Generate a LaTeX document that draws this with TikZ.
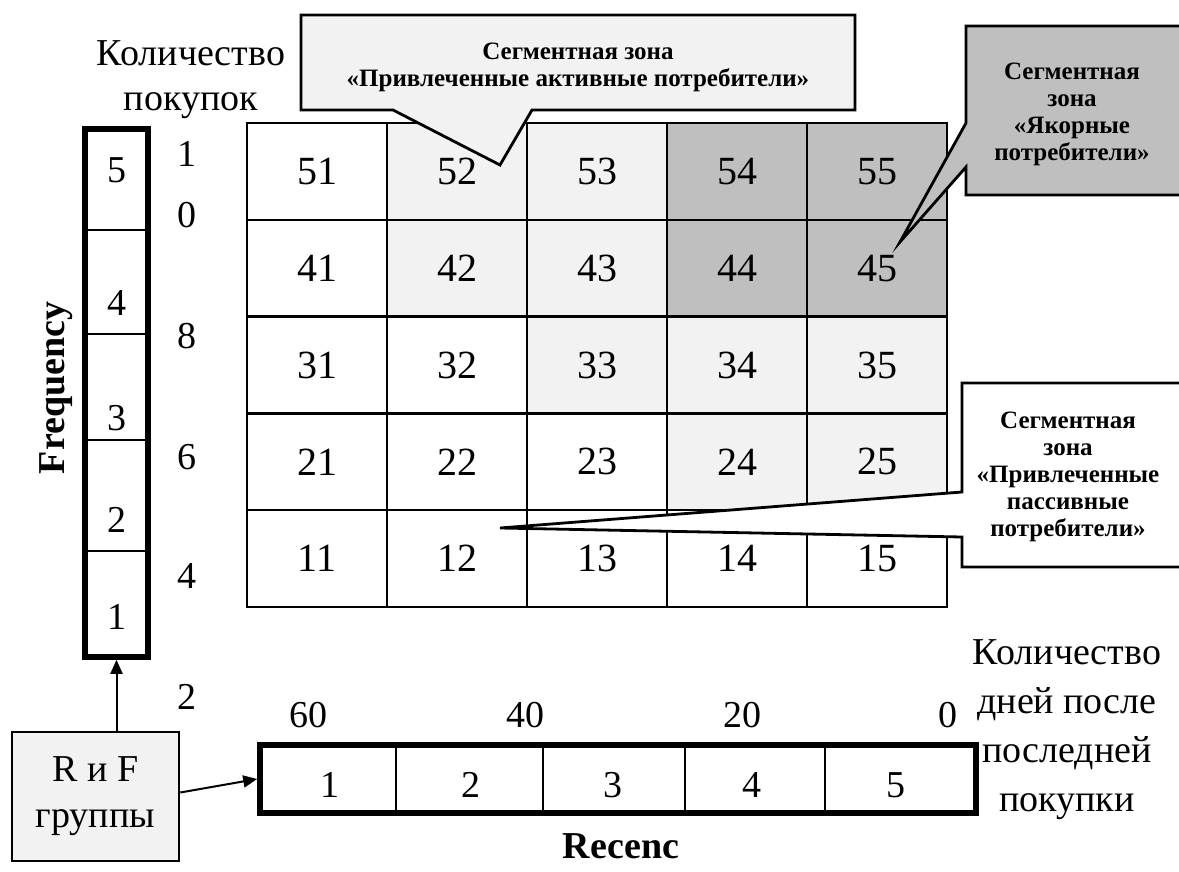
\documentclass[tikz,border=0pt]{standalone}
\usepackage{fontspec}
\setmainfont{Liberation Serif}
\usetikzlibrary{arrows.meta}

\definecolor{lightfill}{HTML}{F2F2F2}
\definecolor{darkfill}{HTML}{BFBFBF}

\tikzset{
  cell/.style={draw, line width=1.2pt, minimum width=70pt, minimum height=48.4pt,
    inner sep=0pt, font=\fontsize{20}{22}\selectfont},
  num/.style={inner sep=0pt, font=\fontsize{19}{22}\selectfont},
  zone/.style={align=center, inner sep=0pt, font=\bfseries\fontsize{12.5}{13.5}\selectfont},
  callout/.style={draw, line width=1.4pt, line join=miter},
  thickbox/.style={draw, line width=2.8pt, inner sep=0pt},
  divline/.style={line width=1.2pt},
  arr/.style={-{Triangle[length=7pt,width=6pt]}, line width=1pt},
}

\begin{document}
\begin{tikzpicture}[x=0.5pt,y=-0.5pt]
\useasboundingbox (0,0) rectangle (1179,872);

% RF matrix
\foreach \c/\f in {1/white,2/lightfill,3/lightfill,4/darkfill,5/darkfill}
  \node[cell,fill=\f] (c5\c) at (177+140*\c,171.4) {5\c};
\foreach \c/\f in {1/white,2/lightfill,3/lightfill,4/darkfill,5/darkfill}
  \node[cell,fill=\f] (c4\c) at (177+140*\c,268.2) {4\c};
\foreach \c/\f in {1/white,2/white,3/lightfill,4/lightfill,5/lightfill}
  \node[cell,fill=\f] (c3\c) at (177+140*\c,365) {3\c};
\foreach \c/\f in {1/white,2/white,3/white,4/lightfill,5/lightfill}
  \node[cell,fill=\f] (c2\c) at (177+140*\c,461.8) {2\c};
\foreach \c in {1,...,5}
  \node[cell,fill=white] (c1\c) at (177+140*\c,558.6) {1\c};

% frequency scale
\node[num, align=center, font=\fontsize{19}{22.5}\selectfont] (qty) at (191,80) {Количество\\покупок};
\foreach \t/\y in {1/154,0/215,8/336,6/457,4/576,2/697}
  \node[num] (s\y) at (187,\y) {\t};

\foreach \y in {230,334,440,551}
  \draw[divline] (85,\y) -- (148,\y);
\node[thickbox, minimum width=31.5pt, minimum height=264pt] (fbox) at (116.5,393) {};
\foreach \n/\y in {5/170,4/303,3/418,2/520,1/617}
  \node[num] (f\n) at (116.5,\y) {\n};
\node[rotate=90, inner sep=0pt, font=\bfseries\fontsize{19}{22}\selectfont] (freq) at (56,388) {Frequency};

% recency scale
\foreach \x in {396,543,685,825}
  \draw[divline] (\x,745) -- (\x,813);
\node[thickbox, minimum width=358pt, minimum height=34pt] (rbox) at (618,779) {};
\foreach \n/\x in {1/330,2/471,3/613,4/752,5/896}
  \node[num] (r\n) at (\x,785) {\n};
\foreach \t/\x in {60/308,40/525,20/742,0/948}
  \node[num] (d\t) at (\x,715) {\t};
\node[num, align=center, font=\fontsize{19}{24.5}\selectfont] (days) at (1067,730) {Количество\\дней после\\последней\\покупки};
\node[inner sep=0pt, font=\bfseries\fontsize{19}{22}\selectfont] (rec) at (621,846) {Recenc};

% groups box
\node[draw, fill=lightfill, line width=1.3pt, minimum width=83.5pt, minimum height=64.5pt,
  align=center, font=\fontsize{19}{23}\selectfont] (rf) at (95.5,796.5) {R и F\\группы};
\draw[arr] (rf.north -| fbox.south) -- (fbox.south);
\draw[arr] ([yshift=2pt]rf.east) -- (rbox.west);

% callouts
\filldraw[callout, fill=lightfill] (301,15) -- (855,15) -- (855,110) -- (532,110)
  -- (500,165) -- (393,110) -- (301,110) -- cycle;
\node[zone] (zone1) at (578,67) {Сегментная зона\\«Привлеченные активные потребители»};

\filldraw[callout, fill=darkfill] (966,26) -- (1190,26) -- (1190,195) -- (966,195)
  -- (966,167) -- (900,242) -- (966,123) -- cycle;
\node[zone] (zone2) at (1072,114) {Сегментная\\зона\\«Якорные\\потребители»};

\filldraw[callout, fill=white] (962,383) -- (1190,383) -- (1190,567) -- (962,567)
  -- (962,537) -- (500,528) -- (962,492) -- cycle;
\node[zone] (zone3) at (1068,477) {Сегментная\\зона\\«Привлеченные\\пассивные\\потребители»};
\end{tikzpicture}
\end{document}
